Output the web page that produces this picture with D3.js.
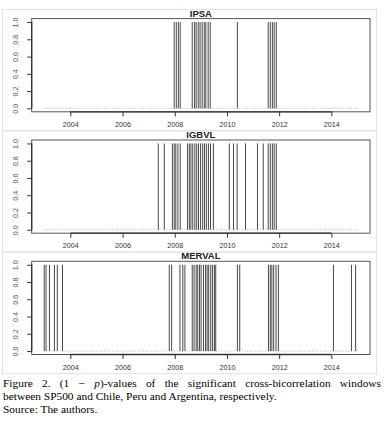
<!DOCTYPE html>
<html>
<head>
<meta charset="utf-8">
<script src="https://cdn.jsdelivr.net/npm/d3@7"></script>
<style>
  html, body { margin: 0; padding: 0; background: #fff; }
  #wrap { position: relative; width: 387px; height: 422px; overflow: hidden; }
  svg { position: absolute; left: 0; top: 0; }
  .cap { position: absolute; left: 3px; width: 378px; font-family: "Liberation Serif", "Times New Roman", serif; font-size: 11.4px; color: #000; white-space: nowrap; line-height: 12.5px; }
  .just { text-align: justify; text-align-last: justify; white-space: normal; }
</style>
</head>
<body>
<div id="wrap"></div>
<script>
// ---- data ----
const panelNames = ["IPSA", "IGBVL", "MERVAL"];
const xTicks = [2004, 2006, 2008, 2010, 2012, 2014];
const yTicks = [0.0, 0.2, 0.4, 0.6, 0.8, 1.0];
const xExtent = [2003, 2015];
const ipsaWindows = [2007.98, 2008.06, 2008.14, 2008.21, 2008.67, 2008.76, 2008.82, 2008.90, 2008.97, 2009.05, 2009.13, 2009.19, 2009.28, 2009.36, 2010.40, 2011.58, 2011.66, 2011.74, 2011.81, 2011.89];
const igbvlWindows = [2007.37, 2007.60, 2007.91, 2007.98, 2008.04, 2008.12, 2008.21, 2008.49, 2008.56, 2008.62, 2008.69, 2008.77, 2008.84, 2008.91, 2008.99, 2009.07, 2009.14, 2009.21, 2009.29, 2009.37, 2009.48, 2010.09, 2010.25, 2010.39, 2010.71, 2011.17, 2011.39, 2011.58, 2011.66, 2011.74, 2011.81, 2011.89];
const mervalWindows = [2003.00, 2003.07, 2003.20, 2003.39, 2003.50, 2003.70, 2007.79, 2007.88, 2008.20, 2008.31, 2008.39, 2008.67, 2008.74, 2008.82, 2008.88, 2008.95, 2009.01, 2009.10, 2009.18, 2009.24, 2009.30, 2009.38, 2009.45, 2009.52, 2009.57, 2010.40, 2010.49, 2011.59, 2011.66, 2011.72, 2011.79, 2011.88, 2011.97, 2014.08, 2014.77, 2014.93];
const windowValue = 1; // (1 - p) value of significant windows
const captionLine1 = "Figure 2. (1 \u2212 <i>p</i>)-values of the significant cross-bicorrelation windows";
const captionLine2 = "between SP500 and Chile, Peru and Argentina, respectively.";
const captionLine3 = "Source: The authors.";

const series = [ipsaWindows, igbvlWindows, mervalWindows];

// ---- layout ----
const W = 387, H = 422;
const boxLeft = 31.7, boxRight = 370;
const boxTops = [18.6, 140.0, 261.3];
const boxH = 93.2;
const frameTops = [9, 130, 251.7];
const frameH = 121.5;

const pad = (xExtent[1] - xExtent[0]) * 0.04;
const x = d3.scaleLinear().domain([xExtent[0] - pad, xExtent[1] + pad]).range([boxLeft, boxRight]);

const wrap = d3.select("#wrap");
const svg = wrap.append("svg").attr("width", W).attr("height", H);

series.forEach((data, i) => {
  const top = boxTops[i], bottom = top + boxH;
  const y = d3.scaleLinear().domain([-0.04, 1.04]).range([bottom, top]);
  const g = svg.append("g");

  // outer panel frame
  g.append("rect")
    .attr("x", 2.5).attr("y", frameTops[i] + 0.5)
    .attr("width", 374).attr("height", frameH)
    .attr("fill", "none").attr("stroke", "#e2e2e2").attr("stroke-width", 1);

  // zero-valued windows baseline (dotted)
  g.append("line")
    .attr("x1", x(xExtent[0])).attr("x2", x(xExtent[1]))
    .attr("y1", y(0)).attr("y2", y(0))
    .attr("stroke", "#b8b8b8").attr("stroke-width", 1)
    .attr("stroke-dasharray", "1,1.6");

  // significant windows
  g.selectAll("line.bar").data(data).join("line")
    .attr("class", "bar")
    .attr("x1", d => x(d)).attr("x2", d => x(d))
    .attr("y1", y(0)).attr("y2", y(windowValue))
    .attr("stroke", "#333").attr("stroke-width", 0.9);

  // box
  g.append("rect")
    .attr("x", boxLeft).attr("y", top)
    .attr("width", boxRight - boxLeft).attr("height", boxH)
    .attr("fill", "none").attr("stroke", "#555").attr("stroke-width", 1);

  // x axis
  const xa = g.append("g").attr("transform", `translate(0,${bottom})`)
    .call(d3.axisBottom(x).tickValues(xTicks).tickFormat(d3.format("d")).tickSize(4.5).tickSizeOuter(0));
  xa.select(".domain").attr("d", `M${x(xTicks[0])},0H${x(xTicks[xTicks.length - 1])}`).attr("stroke", "#333").attr("stroke-width", 1.3);
  xa.selectAll(".tick line").attr("stroke", "#333");
  xa.selectAll(".tick text").attr("y", 10).attr("dy", "0.71em")
    .attr("font-family", "Liberation Sans, Arial, sans-serif").attr("font-size", 7.2).attr("fill", "#333");

  // y axis
  const ya = g.append("g").attr("transform", `translate(${boxLeft},0)`)
    .call(d3.axisLeft(y).tickValues(yTicks).tickFormat(d3.format(".1f")).tickSize(4.5).tickSizeOuter(0));
  ya.select(".domain").attr("d", `M0,${y(0)}V${y(1)}`).attr("stroke", "#333").attr("stroke-width", 1.3);
  ya.selectAll(".tick line").attr("stroke", "#333");
  ya.selectAll(".tick text")
    .attr("x", 0).attr("dy", 0)
    .attr("transform", "translate(-15.5,0) rotate(-90)")
    .attr("text-anchor", "middle").attr("dominant-baseline", "middle")
    .attr("font-family", "Liberation Sans, Arial, sans-serif").attr("font-size", 7.2).attr("fill", "#555");

  // title
  g.append("text")
    .attr("x", (boxLeft + boxRight) / 2).attr("y", top - 2)
    .attr("text-anchor", "middle")
    .attr("font-family", "Liberation Sans, Arial, sans-serif").attr("font-weight", "bold")
    .attr("font-size", 9.5).attr("fill", "#222")
    .text(panelNames[i]);
});

// caption
wrap.append("div").attr("class", "cap just").style("top", "377px").html(captionLine1);
wrap.append("div").attr("class", "cap").style("top", "390px").text(captionLine2);
wrap.append("div").attr("class", "cap").style("top", "402.5px").text(captionLine3);
</script>
</body>
</html>
